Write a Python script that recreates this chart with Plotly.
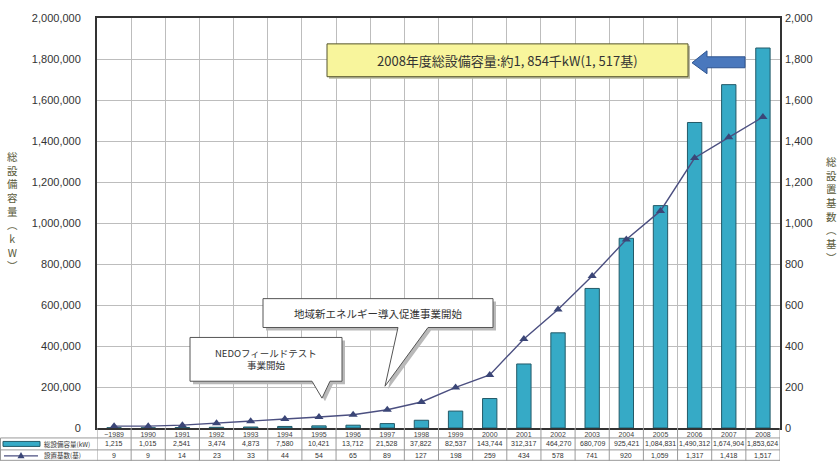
import plotly.graph_objects as go

# Cumulative installed wind power in Japan
years = ["~1989", "1990", "1991", "1992", "1993", "1994", "1995", "1996", "1997", "1998",
         "1999", "2000", "2001", "2002", "2003", "2004", "2005", "2006", "2007", "2008"]
capacity_kw = [1215, 1015, 2541, 3474, 4873, 7580, 10421, 13712, 21528, 37822,
               82537, 143744, 312317, 464270, 680709, 925421, 1084831, 1490312, 1674904, 1853624]
units = [9, 9, 14, 23, 33, 44, 54, 65, 89, 127,
         198, 259, 434, 578, 741, 920, 1059, 1317, 1418, 1517]

W, H = 839, 461
L, R, T, B = 97, 780, 16, 428          # plot area in pixels

JP = "Noto Sans CJK JP, Noto Sans, sans-serif"
NUM = "Liberation Sans, Arial, sans-serif"
BAR_FILL = "#36aac6"
BAR_EDGE = "#235a68"
LINE_COL = "#4b4f80"


def px(x):
    return (x - L) / (R - L)


def py(y):
    return (B - y) / (B - T)


def note(x, y, text, size, family=JP, color="#333", xanchor="center", xref="paper"):
    return dict(x=x, y=y, xref=xref, yref="paper", text=text, showarrow=False,
                xanchor=xanchor, yanchor="middle",
                font=dict(family=family, size=size, color=color))


fig = go.Figure()

fig.add_trace(go.Bar(
    x=years, y=capacity_kw, name="総設備容量(kW)",
    marker=dict(color=BAR_FILL, line=dict(color=BAR_EDGE, width=1)),
    width=0.42,
))
fig.add_trace(go.Scatter(
    x=years, y=units, name="設置基数(基)", yaxis="y2", mode="lines+markers",
    line=dict(color=LINE_COL, width=1.4),
    marker=dict(symbol="triangle-up", size=8, color="#3b4677"),
))

shapes = []
annotations = []

# ---- data table below the plot ----
grid = dict(color="#9a9a9a", width=1)
for yy in (438, 450, 460.5):
    shapes.append(dict(type="line", xref="paper", yref="paper",
                       x0=px(0.5), x1=px(R), y0=py(yy), y1=py(yy), line=grid))
shapes.append(dict(type="line", xref="paper", yref="paper",
                   x0=px(0.5), x1=px(0.5), y0=py(438), y1=py(461), line=grid))
for k in range(len(years) + 1):
    shapes.append(dict(type="line", xref="x", yref="paper",
                       x0=k - 0.5, x1=k - 0.5, y0=0, y1=py(461), line=grid))

# category positions on the x axis are addressed by index
for i in range(len(years)):
    annotations.append(note(i, py(444), f"{capacity_kw[i]:,}", 7, NUM, xref="x"))
    annotations.append(note(i, py(455.5), f"{units[i]:,}", 7, NUM, xref="x"))

# table legend keys
shapes.append(dict(type="rect", xref="paper", yref="paper",
                   x0=px(3), x1=px(40), y0=py(441.5), y1=py(446.5),
                   fillcolor=BAR_FILL, line=dict(color=BAR_EDGE, width=1)))
shapes.append(dict(type="line", xref="paper", yref="paper",
                   x0=px(4), x1=px(38), y0=py(456), y1=py(456),
                   line=dict(color=LINE_COL, width=1.4)))
tx, ty = 21, 456
shapes.append(dict(type="path", xref="paper", yref="paper",
                   path=f"M {px(tx-3.5)} {py(ty+2.5)} L {px(tx+3.5)} {py(ty+2.5)} L {px(tx)} {py(ty-4)} Z",
                   fillcolor="#3b4677", line=dict(width=0)))
annotations.append(note(px(42), py(444), "総設備容量(kW)", 6.5, xanchor="left"))
annotations.append(note(px(42), py(455.5), "設置基数(基)", 6.5, xanchor="left"))

# ---- vertical axis titles ----
left_title = "<br>".join(list("総設備容量") + ["︵", "k", "W", "︶"])
right_title = "<br>".join(list("総設置基数") + ["︵", "基", "︶"])
annotations.append(note(px(12), py(210), left_title, 10.5, color="#5a5a3a"))
annotations.append(note(px(832), py(208), right_title, 10.5, color="#5a5a3a"))


# ---- callouts ----
def callout(x0, y0, x1, y1, tail_a, tail_b, tip, text, size):
    pts = [(x0, y0), (x1, y0), (x1, y1), (tail_b, y1), tip, (tail_a, y1), (x0, y1)]
    shadow = " L ".join(f"{px(a + 3)} {py(b + 3)}" for a, b in pts)
    body = " L ".join(f"{px(a)} {py(b)}" for a, b in pts)
    shapes.append(dict(type="path", xref="paper", yref="paper", path=f"M {shadow} Z",
                       fillcolor="#b9b9b9", line=dict(width=0)))
    shapes.append(dict(type="path", xref="paper", yref="paper", path=f"M {body} Z",
                       fillcolor="white", line=dict(color="#555", width=1)))
    annotations.append(note(px((x0 + x1) / 2), py((y0 + y1) / 2), text, size))


callout(263, 298, 493, 327, 398, 428, (385, 386), "地域新エネルギー導入促進事業開始", 10.5)
callout(190, 337, 342, 381, 312, 330, (322, 398), "NEDOフィールドテスト<br>事業開始", 9.5)

# headline box
shapes.append(dict(type="rect", xref="paper", yref="paper",
                   x0=px(329), x1=px(690), y0=py(44), y1=py(77),
                   fillcolor="#b8b8a0", line=dict(width=0)))
shapes.append(dict(type="rect", xref="paper", yref="paper",
                   x0=px(327), x1=px(688), y0=py(42), y1=py(75),
                   fillcolor="#f8f59c", line=dict(color="#55552e", width=1)))
annotations.append(note(px(507), py(58.5), "2008年度総設備容量:約1, 854千kW(1, 517基)", 13))

# block arrow pointing at the 2008 bar
arrow = [(692, 61), (707, 49), (707, 55), (745, 55), (745, 66), (707, 66), (707, 72)]
shapes.append(dict(type="path", xref="paper", yref="paper",
                   path="M " + " L ".join(f"{px(a)} {py(b)}" for a, b in arrow) + " Z",
                   fillcolor="#4a78bd", line=dict(color="#2f5590", width=1)))

fig.update_layout(
    width=W, height=H,
    margin=dict(l=L, r=W - R, t=T, b=H - B),
    paper_bgcolor="white", plot_bgcolor="white",
    showlegend=False,
    bargap=0.5,
    shapes=shapes,
    annotations=annotations,
    xaxis=dict(
        type="category", range=[-0.5, len(years) - 0.5],
        tickson="boundaries", showgrid=True, gridcolor="#bdbdbd", gridwidth=1,
        ticks="", ticklabelstandoff=-1,
        tickfont=dict(family=NUM, size=7, color="#444"),
        showline=True, linecolor="#333", linewidth=2, mirror=True,
    ),
    yaxis=dict(
        range=[0, 2000000], dtick=200000, tickformat=",d",
        showgrid=True, gridcolor="#bdbdbd", gridwidth=1, zeroline=False,
        showline=True, linecolor="#333", linewidth=2, mirror=True,
        ticks="", ticklabelstandoff=12,
        tickfont=dict(family=NUM, size=11, color="#333"),
    ),
    yaxis2=dict(
        overlaying="y", side="right", range=[0, 2000], dtick=200, tickformat=",d",
        showgrid=False, zeroline=False, ticks="", ticklabelstandoff=4,
        tickfont=dict(family=NUM, size=11, color="#333"),
    ),
)

fig.write_html("out.html")
